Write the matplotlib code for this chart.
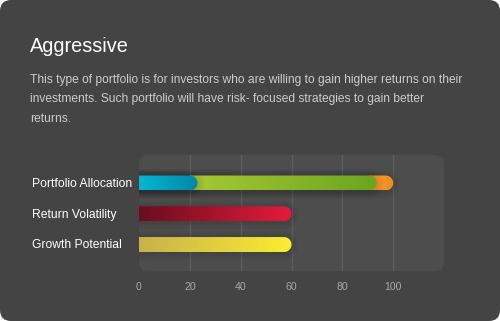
import numpy as np
import matplotlib
matplotlib.use('Agg')
import matplotlib.pyplot as plt
from matplotlib.patches import FancyBboxPatch, PathPatch
from matplotlib.path import Path
from matplotlib.colors import LinearSegmentedColormap

# ---------------- data ----------------
categories = ["Portfolio Allocation", "Return Volatility", "Growth Potential"]
alloc_segments = [23, 70.5, 6.5]          # stacked segments of first bar
volatility_value = 60
growth_value = 60
tick_values = [0, 20, 40, 60, 80, 100]
x_max = 120

title = "Aggressive"
desc_lines = [
    "This type of portfolio is for investors who are willing to gain higher returns on their",
    "investments. Such portfolio will have risk- focused strategies to gain better",
    "returns.",
]

alloc_colors = [("#00b8d2", "#0086ab"), ("#a8c934", "#6aa520"), ("#f5a52c", "#ef8a1c")]
vol_colors = ("#6a0e1d", "#e41b3b")
growth_colors = ("#c8b14c", "#faee30")

plt.rcParams['font.family'] = ['Liberation Sans', 'DejaVu Sans']

W, H = 500, 321
fig = plt.figure(figsize=(W / 100, H / 100), dpi=100)
fig.patch.set_facecolor('white')

card = FancyBboxPatch((0, 0), W / 100, H / 100,
                      boxstyle="round,pad=0,rounding_size=0.11",
                      transform=fig.dpi_scale_trans, facecolor='#444444',
                      edgecolor='none', zorder=-3)
fig.add_artist(card)

# plot area (pixel coords)
pl, pr, pt, pb = 139, 444, 155, 271
plot_bg = FancyBboxPatch((pl / 100, (H - pb) / 100), (pr - pl) / 100, (pb - pt) / 100,
                         boxstyle="round,pad=0,rounding_size=0.09",
                         transform=fig.dpi_scale_trans, facecolor='#4d4d4d',
                         edgecolor='none', zorder=-2)
fig.add_artist(plot_bg)

ax = fig.add_axes([pl / W, (H - pb) / H, (pr - pl) / W, (pb - pt) / H])
ax.set_facecolor('none')
for s in ax.spines.values():
    s.set_visible(False)

ylim = (2.86, -0.91)
ax.set_xlim(0, x_max)
ax.set_ylim(*ylim)

ppx = (pr - pl) / x_max
ppy = (pb - pt) / abs(ylim[0] - ylim[1])
bar_h_px = 15
h = bar_h_px / ppy
rx = (bar_h_px / 2) / ppx

for tv in tick_values[1:]:
    ax.plot([tv, tv], list(ylim), color='#5d5d5d', lw=1, zorder=1)


def bar_path(x0, x1, yc, hh, r):
    t = np.linspace(-np.pi / 2, np.pi / 2, 40)
    xs = np.concatenate([[x0], x1 - r + r * np.cos(t), [x0, x0]])
    ys = np.concatenate([[yc - hh / 2], yc + (hh / 2) * np.sin(t), [yc + hh / 2, yc - hh / 2]])
    return Path(np.column_stack([xs, ys]))


def shadow(x1, yc, z):
    for k in range(1, 6):
        e = k * 1.4
        p = bar_path(0, x1 + e / ppx, yc + 1 / ppy, h + 2 * e / ppy, rx + e / ppx)
        ax.add_patch(PathPatch(p, facecolor='black', edgecolor='none', alpha=0.022, zorder=z))


def grad_bar(xs, xe, yc, c0, c1, z):
    cmap = LinearSegmentedColormap.from_list('g', [c0, c1])
    p = bar_path(0, xe, yc, h, rx)
    patch = PathPatch(p, transform=ax.transData, facecolor='none', edgecolor='none')
    ax.add_patch(patch)
    grad = np.linspace(0, 1, 256).reshape(1, -1)
    im = ax.imshow(grad, cmap=cmap, extent=[xs, xe, yc + h / 2, yc - h / 2],
                   aspect='auto', zorder=z, interpolation='bilinear')
    im.set_clip_path(patch)


# Portfolio Allocation (stacked)
cum = np.cumsum(alloc_segments)
starts = np.concatenate([[0], cum[:-1]])
shadow(cum[-1], 0, 2)
n = len(alloc_segments)
for i in range(n - 1, -1, -1):
    s0 = starts[i] - rx if i > 0 else 0
    z = 3 + (n - i) * 2
    if i < n - 1:
        shadow(cum[i], 0, z - 1)
    grad_bar(s0, cum[i], 0, alloc_colors[i][0], alloc_colors[i][1], z)

shadow(volatility_value, 1, 2)
grad_bar(0, volatility_value, 1, vol_colors[0], vol_colors[1], 3)
shadow(growth_value, 2, 2)
grad_bar(0, growth_value, 2, growth_colors[0], growth_colors[1], 3)

ax.set_xlim(0, x_max)
ax.set_ylim(*ylim)
ax.set_xticks(tick_values)
ax.set_xticklabels([str(v) for v in tick_values])
ax.set_yticks([])
ax.tick_params(axis='x', length=0, pad=8.0, labelcolor='#a8a8a8', labelsize=7.6)

# category labels
for i, c in enumerate(categories):
    yc_px = pt + (i - ylim[1]) * ppy + 0.8
    fig.text(31.5 / W, 1 - yc_px / H, c, color='white', fontsize=8.7,
             ha='left', va='center')

fig.text(30 / W, 1 - 51.5 / H, title, color='white', fontsize=14.3,
         ha='left', va='baseline')
for j, line in enumerate(desc_lines):
    fig.text(30 / W, 1 - (82.5 + 19.6 * j) / H, line, color='#cccccc',
             fontsize=8.64, ha='left', va='baseline')

fig.savefig('out.png', dpi=100)
